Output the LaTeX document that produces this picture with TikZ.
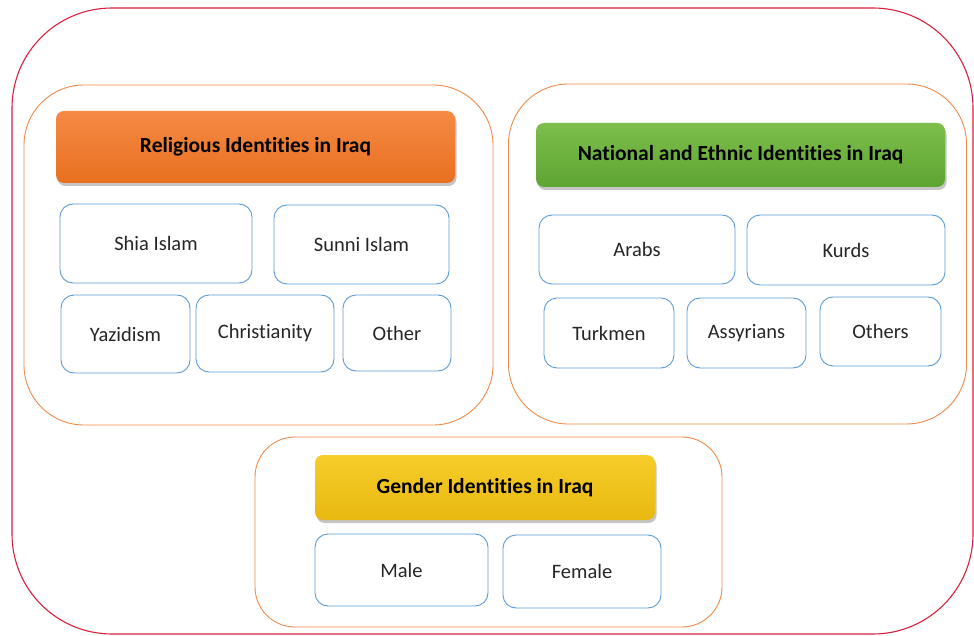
\documentclass[tikz,border=0pt]{standalone}
\usepackage{fontspec}
\setmainfont[Ligatures=NoCommon]{Carlito}
\usetikzlibrary{shadows}
\definecolor{outerred}{HTML}{D9213D}
\definecolor{grouporange}{HTML}{F08A4B}
\definecolor{itemblue}{HTML}{5B9BD5}
\definecolor{relA}{HTML}{F58A45}
\definecolor{relB}{HTML}{E8701F}
\definecolor{natA}{HTML}{7DBE4C}
\definecolor{natB}{HTML}{5EA432}
\definecolor{genA}{HTML}{F6CD2A}
\definecolor{genB}{HTML}{E8B810}
\tikzset{
  outerbox/.style={draw=outerred, line width=1.1pt, rounded corners=100pt, inner sep=0pt},
  groupbox/.style={draw=grouporange, line width=0.9pt, rounded corners=60pt, inner sep=0pt},
  itembox/.style={draw=itemblue, line width=0.9pt, fill=white, rounded corners=13pt, inner sep=0pt,
    font=\fontsize{20.5}{22}\selectfont, text=black!85},
  titlebox/.style={rounded corners=8pt, inner sep=0pt, font=\bfseries\fontsize{21.5}{24}\selectfont,
    text=black, drop shadow={shadow xshift=1.5pt, shadow yshift=-3pt, fill=black!45, opacity=0.5}},
}
\begin{document}
\begin{tikzpicture}[x=1pt,y=-1pt]
\useasboundingbox (0,0) rectangle (974,636);
\fill[white] (0,0) rectangle (974,636);
% outer frame
\node[outerbox, minimum width=961, minimum height=626] (outer) at (492.5,321) {};
% group boxes
\node[groupbox, minimum width=469, minimum height=340] (relgroup) at (258.5,255) {};
\node[groupbox, minimum width=458, minimum height=340] (natgroup) at (737.5,254) {};
\node[groupbox, minimum width=467, minimum height=190, rounded corners=40pt] (gengroup) at (488.5,532) {};
% titles
\node[titlebox, top color=relA, bottom color=relB, minimum width=399, minimum height=72] (reltitle) at (255.5,147) {Religious Identities in Iraq};
\node[titlebox, top color=natA, bottom color=natB, minimum width=409, minimum height=64] (nattitle) at (740.5,155) {National and Ethnic Identities in Iraq};
\node[titlebox, top color=genA, bottom color=genB, minimum width=340, minimum height=65] (gentitle) at (485,487.5) {Gender Identities in Iraq};
% religious items
\node[itembox, minimum width=192, minimum height=79] (shia) at (156,243.5) {Shia Islam};
\node[itembox, minimum width=175, minimum height=79] (sunni) at (361.5,244.5) {Sunni Islam};
\node[itembox, minimum width=129, minimum height=78] (yazidism) at (125.5,334) {Yazidism};
\node[itembox, minimum width=138, minimum height=77] (christianity) at (265,333.5) {Christianity};
\node[itembox, minimum width=108, minimum height=76] (other) at (397,333) {Other};
% national items
\node[itembox, minimum width=196, minimum height=69] (arabs) at (637,249.5) {Arabs};
\node[itembox, minimum width=198, minimum height=70] (kurds) at (846,250) {Kurds};
\node[itembox, minimum width=130, minimum height=70] (turkmen) at (609,333) {Turkmen};
\node[itembox, minimum width=119, minimum height=70] (assyrians) at (746.5,333) {Assyrians};
\node[itembox, minimum width=121, minimum height=69] (others) at (880.5,331.5) {Others};
% gender items
\node[itembox, minimum width=173, minimum height=72] (male) at (401.5,570) {Male};
\node[itembox, minimum width=158, minimum height=73] (female) at (582,571.5) {Female};
\end{tikzpicture}
\end{document}
